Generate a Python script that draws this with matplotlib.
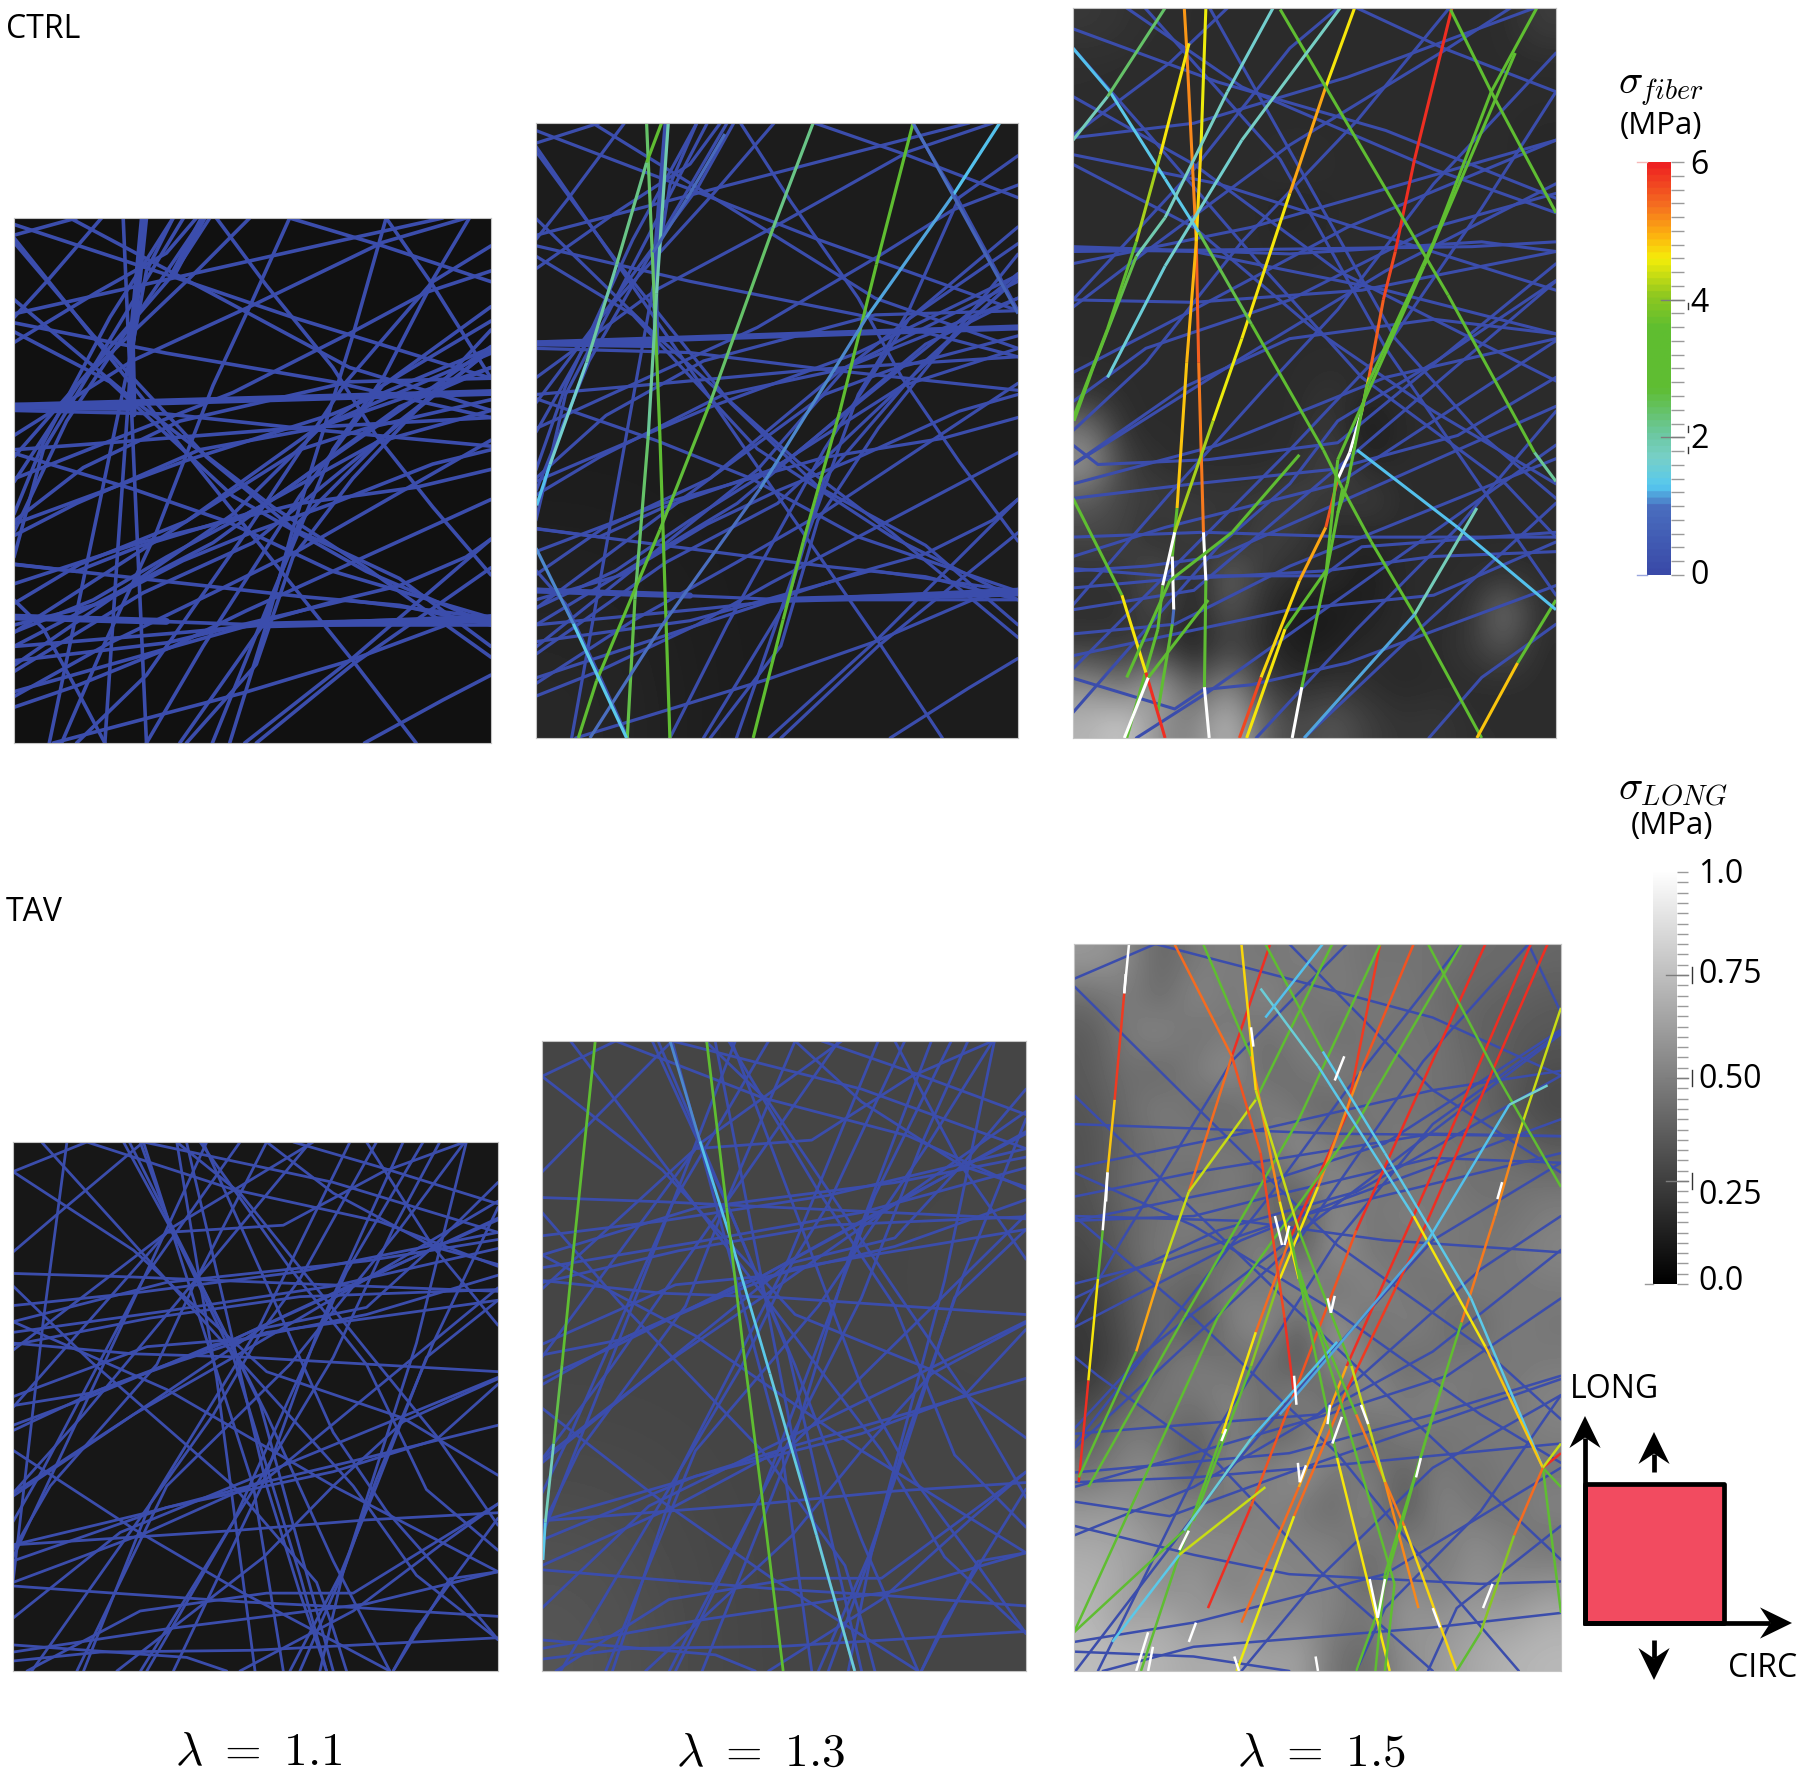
import matplotlib
matplotlib.use("Agg")
import matplotlib.pyplot as plt
import numpy as np
from matplotlib.collections import LineCollection
from matplotlib.colors import LinearSegmentedColormap, Normalize
from matplotlib.patches import Polygon, Rectangle

W, H = 1800, 1776

# Fibers are polylines [x0, y0, x1, y1, ...] in coordinates of the panel crop
# CTRL network (lambda 1.1 / 1.3 share it), box 42-1475 x 52-1520
ctrl_net = [
    [42, 590, 500, 600, 900, 640, 1475, 690],
    [42, 1165, 780, 1190, 1475, 1190],
    [42, 1250, 560, 1210, 790, 1190, 1475, 1165],
    [42, 1290, 500, 1240, 1040, 1120, 1475, 1170],
    [42, 1420, 230, 1360, 520, 1250, 740, 1150, 1000, 1040],
    [42, 1390, 330, 1240, 640, 1100, 900, 980, 1200, 820],
    [160, 1520, 730, 1380, 1050, 1290, 1340, 1190, 1475, 1165],
    [735, 1520, 1050, 1290, 1475, 950],
    [770, 1520, 1060, 1300, 1475, 1030],
    [1095, 1520, 1330, 1400, 1475, 1330],
    [42, 1075, 420, 960, 900, 850, 1250, 805, 1475, 755],
    [42, 1020, 230, 1040, 420, 970, 740, 880, 1130, 680, 1475, 590],
    [42, 1130, 240, 1020, 560, 900, 950, 640, 1475, 430],
    [42, 940, 230, 850, 600, 700, 950, 640, 1475, 470],
    [42, 700, 330, 680, 880, 640, 1475, 610],
    [42, 660, 400, 450, 750, 300, 1150, 120, 1400, 52],
    [42, 320, 520, 220, 1000, 120, 1330, 52],
    [42, 100, 230, 52],
    [42, 900, 250, 750, 540, 620, 1050, 510, 1475, 500],
    [180, 860, 560, 730, 1000, 600, 1475, 415],
    [42, 1250, 640, 960, 1200, 580, 1475, 470],
    [42, 70, 500, 210, 880, 330, 1475, 500],
    [210, 52, 640, 265, 1050, 470, 1475, 590],
    [42, 120, 280, 380, 620, 720, 880, 920, 1200, 1060, 1475, 1250],
    [42, 280, 400, 560, 820, 860, 1100, 1030, 1475, 1280],
    [42, 345, 500, 430, 1000, 510, 1475, 610],
    [42, 370, 330, 510, 700, 830, 1100, 1040, 1475, 1190],
    [42, 710, 400, 810, 680, 900, 1000, 1040, 1475, 1170],
    [650, 52, 800, 240, 1000, 470, 1130, 660, 1300, 860, 1475, 1050],
    [1160, 52, 1300, 240, 1475, 500],
    [870, 52, 1150, 130, 1475, 230],
    [42, 1120, 130, 1200, 230, 1370, 315, 1520],
    [750, 930, 1060, 1290, 1250, 1520],
    [420, 1060, 900, 1110, 1200, 1135, 1475, 1190],
    [630, 52, 520, 210, 240, 510, 42, 790],
    [610, 52, 400, 340, 200, 620, 42, 930],
    [520, 52, 330, 330, 130, 680, 42, 880],
    [750, 52, 570, 220, 230, 520, 42, 720],
    [1475, 300, 1150, 520, 900, 830, 610, 1250, 440, 1520],
    [1475, 420, 1200, 620, 900, 900, 790, 1190, 540, 1520],
    [1200, 640, 1060, 780, 880, 1000, 770, 1300, 560, 1520],
    [1475, 130, 1300, 230, 1150, 500, 1000, 700, 820, 1100, 690, 1400],
    [305, 52, 140, 230, 42, 330],
    [42, 1000, 130, 700, 260, 500],
    [42, 1320, 430, 1100, 760, 960, 1130, 680],
    [1475, 200, 1280, 260, 1060, 370, 700, 540, 400, 650],
    [1475, 950, 1400, 1000, 1200, 1080, 1000, 1125, 600, 1230],
    [1475, 340, 1150, 520, 960, 640, 700, 880, 420, 1060],
    [1475, 560, 1100, 640, 900, 700, 560, 900, 310, 1050],
    [1475, 700, 1300, 740, 1000, 850, 760, 930, 550, 1010, 300, 1130, 42, 1190],
    [42, 1210, 280, 1120, 500, 1000, 800, 850, 1000, 720],
    [42, 400, 290, 260, 500, 150, 590, 52],
    [520, 52, 440, 200, 400, 400, 310, 800],
]
ctrl_thick = [
    [42, 578, 1475, 540],
    [42, 578, 390, 582],
    [430, 52, 395, 400, 400, 600],
    [42, 1168, 500, 1180],
    [790, 1190, 1475, 1175],
]
ctrl_top_thick = [[610, 52, 520, 210]]
ctrl_steep = [
    [370, 52, 405, 800, 440, 1520],
    [440, 52, 390, 500, 350, 1030, 315, 1520],
    [870, 52, 750, 300, 640, 520, 470, 930, 310, 1250, 185, 1520],
    [1160, 52, 1060, 380, 960, 680, 880, 920, 800, 1190, 690, 1520],
    [1410, 52, 1290, 240, 1040, 510, 740, 930, 440, 1330, 230, 1520],
]

# lambda 1.3 CTRL, coloured fibers, box 48-1495 x 33-1540
ctrl13_pts = [
    [380, 33, 405, 500, 420, 800, 450, 1540],
    [445, 33, 410, 450, 385, 800, 345, 1200, 322, 1540],
    [425, 33, 380, 130, 290, 380, 200, 620, 90, 870, 50, 970],
    [880, 33, 760, 290, 570, 720, 420, 1030, 230, 1400, 175, 1540],
    [1180, 33, 1070, 380, 960, 740, 850, 1060, 790, 1250, 700, 1540],
    [1440, 33, 1300, 210, 1040, 510, 720, 930, 430, 1260, 210, 1540],
    [48, 1075, 160, 1260, 320, 1540],
    [615, 60, 500, 220, 400, 350],
    [1180, 33, 1300, 210, 1495, 500],
]
ctrl13_vals = [
    [2.4, 2.8, 3.0],
    [1.9, 2.1, 2.4, 2.6],
    [3.0, 2.2, 2.0, 1.6, 1.3],
    [2.2, 2.4, 2.7, 2.9, 3.0],
    [3.4, 3.4, 3.4, 3.4, 3.4],
    [1.3, 1.2, 1.05, 1.0, 1.0],
    [1.1, 1.4],
    [0.9, 0.7],
    [1.0, 0.7],
]

# lambda 1.5 CTRL, box 48-1055 x 17-1525
ctrl15_blue = [
    [48, 520, 500, 515, 880, 510, 1055, 500],
    [48, 510, 500, 525, 900, 500, 1055, 520],
    [48, 515, 300, 520, 700, 600, 1055, 690],
    [48, 545, 420, 470, 1055, 290],
    [48, 620, 300, 625, 650, 600, 1055, 520],
    [48, 285, 300, 255, 620, 160, 1010, 17],
    [48, 635, 200, 520, 500, 300, 830, 100, 960, 17],
    [48, 60, 350, 170, 700, 270, 1055, 410],
    [160, 17, 400, 180, 800, 350, 1055, 440],
    [48, 320, 350, 380, 700, 490, 1055, 600],
    [48, 340, 300, 470, 550, 680, 800, 850, 1055, 1000],
    [48, 100, 190, 260, 450, 560, 650, 780, 950, 1000, 1055, 1110],
    [640, 17, 820, 100, 1055, 190],
    [48, 770, 300, 640, 620, 470, 1055, 290],
    [48, 830, 200, 720, 500, 620, 800, 470, 1055, 400],
    [48, 920, 100, 960, 330, 950, 600, 915, 1000, 590],
    [48, 1000, 350, 920, 700, 780, 1055, 700],
    [48, 1030, 300, 1000, 590, 970, 850, 900, 1055, 780],
    [48, 1110, 320, 1100, 640, 1110, 1055, 1110],
    [48, 1150, 240, 1090, 600, 1000, 800, 870],
    [48, 1175, 300, 1195, 570, 1180, 800, 1150, 1055, 1140],
    [48, 1215, 330, 1190, 570, 1190, 650, 1130, 1055, 1100],
    [48, 1310, 260, 1290, 500, 1170, 700, 1090],
    [48, 1355, 500, 1260, 800, 1230, 1055, 1120],
    [210, 1450, 260, 1465, 320, 1425, 420, 1415, 620, 1370, 1055, 1210],
    [1055, 850, 850, 1090, 640, 1300, 430, 1525],
    [1055, 580, 800, 750, 600, 870, 500, 1000, 350, 1130, 200, 1300],
    [1055, 110, 800, 380, 600, 640, 450, 800, 250, 1020, 48, 1250],
    [1055, 190, 900, 430, 700, 720, 500, 930, 270, 1160],
    [300, 130, 480, 330, 700, 720, 950, 1080, 1055, 1230],
    [550, 400, 720, 700, 900, 900, 1055, 1030],
    [48, 890, 200, 750, 400, 500, 640, 250, 830, 20],
    [370, 17, 250, 130, 48, 280],
    [48, 1180, 200, 1170, 350, 1150, 600, 1040],
    [180, 1525, 330, 1430, 600, 1240],
    [530, 1525, 770, 1300, 1055, 1040],
    [1055, 1290, 900, 1400, 790, 1525],
    [48, 1260, 300, 1220, 430, 1110],
    [1055, 380, 700, 560, 400, 740, 48, 960],
    [1055, 690, 800, 660, 500, 700, 280, 800, 48, 960],
    [600, 17, 500, 100, 300, 350, 48, 620],
    [48, 200, 300, 340, 600, 560, 1000, 760],
]
ctrl15_pts = [
    [280, 17, 285, 100, 305, 500, 310, 750, 320, 1100, 325, 1200, 322, 1420, 332, 1525],
    [325, 17, 315, 300, 305, 500, 285, 750, 265, 1050, 255, 1150, 258, 1260, 255, 1290, 225, 1470],
    [635, 17, 575, 180, 500, 400, 400, 700, 340, 870, 260, 1100, 235, 1210, 225, 1300, 160, 1525],
    [838, 17, 760, 330, 720, 520, 695, 620, 665, 780, 650, 850, 625, 935, 600, 990, 575, 1090, 520, 1200, 440, 1400, 395, 1525],
    [1015, 17, 920, 190, 800, 500, 660, 800, 620, 1000, 600, 1060],
    [970, 110, 780, 550, 600, 950, 575, 1190],
    [835, 20, 920, 190, 1055, 440],
    [480, 20, 640, 290, 830, 610, 1010, 935, 1055, 995],
    [125, 190, 240, 370, 310, 480, 420, 670, 570, 930, 610, 1010, 670, 1120, 760, 1270, 900, 1525],
    [48, 100, 125, 190],
    [240, 17, 120, 200, 48, 290],
    [465, 17, 370, 190, 240, 450, 180, 530, 90, 760, 50, 870],
    [605, 17, 400, 290, 240, 550, 120, 780],
    [290, 90, 230, 320, 180, 500, 120, 680, 50, 860],
    [48, 1030, 150, 1230, 200, 1390, 240, 1525],
    [610, 1010, 575, 1190, 525, 1420, 505, 1525],
    [575, 1180, 490, 1300, 410, 1525],
    [1055, 1240, 975, 1370, 890, 1525],
    [890, 1050, 760, 1270, 530, 1525],
    [640, 930, 850, 1090, 1055, 1260],
    [160, 1400, 250, 1200, 380, 1100, 520, 940],
    [155, 1525, 205, 1400, 330, 1240],
]
ctrl15_vals = [
    [5.1, 5.2, 5.5, 5.3, 9, 2.8, 9],
    [4.5, 4.7, 4.9, 4.8, 3.0, 9, 1.0, 3.0],
    [4.6, 5.0, 4.6, 4.5, 4.2, 9, 3.0, 3.0],
    [5.9, 5.9, 5.7, 5.5, 4.8, 9, 9, 5.6, 5.0, 4.7, 5.7],
    [3.4, 3.2, 3.1, 3.0, 3.1],
    [3.3, 3.1, 3.4],
    [3.3, 3.0],
    [3.1, 3.0, 3.1, 2.1],
    [1.4, 1.4, 2.6, 2.9, 3.0, 3.1, 3.2, 3.4],
    [1.3],
    [2.4, 1.8],
    [1.6, 1.7, 1.9, 2.6, 3.0],
    [1.7, 1.6, 1.5],
    [4.6, 4.2, 3.2, 3.0],
    [3.2, 4.6, 5.9],
    [3.1, 3.2, 9],
    [3.4, 4.6],
    [3.2, 4.8],
    [1.8, 1.2],
    [1.3, 1.3],
    [3.0, 3.1, 3.0],
    [9, 3.0, 1.2],
]

# TAV network (lambda 1.1 / 1.3 share it), box 38-1495 x 37-1518
tav_net = [
    [38, 120, 260, 37],
    [38, 345, 170, 240, 400, 60, 430, 37],
    [38, 405, 400, 415, 800, 430, 1495, 455],
    [38, 495, 400, 460, 900, 400, 1495, 290],
    [38, 540, 500, 430, 1100, 370, 1495, 310],
    [38, 570, 500, 510, 1000, 440, 1495, 335],
    [38, 605, 450, 530, 900, 470, 1495, 450],
    [38, 600, 400, 630, 750, 640, 1495, 680],
    [38, 750, 440, 610, 700, 590, 1000, 460, 1495, 255],
    [38, 775, 270, 740, 540, 650, 800, 570, 1495, 480],
    [38, 830, 270, 750, 640, 605, 1100, 520, 1495, 410],
    [38, 845, 300, 730, 700, 590, 1150, 400, 1495, 250],
    [38, 1020, 400, 800, 700, 640, 1100, 420],
    [38, 1165, 440, 1075, 790, 990, 1060, 930, 1495, 830],
    [38, 1210, 500, 1060, 1000, 960, 1310, 870, 1495, 715],
    [38, 1270, 440, 1130, 800, 980, 1060, 780],
    [38, 1165, 700, 1125, 1100, 1095, 1495, 1075],
    [38, 1280, 340, 1300, 740, 1325, 1060, 1340, 1495, 1365],
    [38, 1445, 560, 1480, 680, 1518],
    [38, 1490, 300, 1465, 760, 1460, 1495, 1425],
    [38, 1465, 500, 1400, 1100, 1330, 1495, 1240],
    [80, 1518, 420, 1350, 800, 1300, 1060, 1300, 1495, 1050],
    [38, 120, 400, 340, 800, 680, 1210, 810, 1495, 970],
    [260, 37, 700, 170, 1140, 260, 1495, 385],
    [430, 37, 1000, 150, 1495, 290],
    [38, 440, 270, 650, 700, 1000, 950, 1270, 1000, 1400, 1040, 1518],
    [38, 900, 400, 1120, 730, 1300, 1170, 1518],
    [38, 540, 500, 730, 1000, 1000, 1495, 1240],
    [530, 37, 720, 180, 1100, 620, 1310, 860, 1495, 1110],
    [1100, 37, 1300, 330, 1495, 550],
    [600, 37, 870, 390, 1100, 660, 1280, 1010, 1495, 1180],
    [710, 640, 1060, 1000, 1250, 1250, 1495, 1430],
    [870, 580, 1000, 850, 1160, 1070, 1350, 1270, 1495, 1430],
    [1395, 37, 1200, 280, 870, 660, 500, 1000, 230, 1518],
    [940, 37, 510, 280, 38, 780],
    [800, 37, 590, 420, 470, 660, 150, 1000, 38, 1180],
    [620, 37, 500, 280, 270, 740, 38, 1200],
    [720, 37, 430, 420, 130, 950, 38, 1100],
    [1050, 37, 780, 550, 450, 1050, 250, 1518],
    [1210, 37, 960, 550, 790, 990, 520, 1518],
    [1270, 37, 1040, 400, 700, 1100, 440, 1518],
    [1495, 220, 1300, 600, 1130, 980, 1030, 1240, 900, 1518],
    [1400, 37, 1250, 600, 1030, 1240, 960, 1518],
    [1495, 480, 1280, 640, 1130, 1000, 1020, 1250, 870, 1518],
    [1495, 700, 1210, 820, 1000, 1000, 790, 1200, 350, 1518],
    [1495, 1050, 1330, 1160, 1060, 1350, 720, 1518],
    [1495, 1240, 1350, 1260, 1180, 1518],
    [1495, 1090, 1250, 1400, 1180, 1518],
    [370, 37, 600, 430, 780, 770, 1000, 1518],
    [710, 640, 800, 1000, 900, 1300, 980, 1518],
    [1395, 37, 1150, 120, 850, 270, 500, 290, 38, 620],
    [1495, 150, 1300, 330, 1100, 500, 780, 560, 400, 800],
    [1130, 37, 900, 420, 790, 560, 640, 800, 450, 1050],
    [1320, 37, 1180, 280, 1000, 640, 800, 950, 600, 1250],
    [880, 37, 1150, 110, 1495, 210],
    [800, 37, 1000, 180, 1300, 330, 1495, 380],
    [640, 650, 760, 1000, 850, 1518],
    [600, 430, 800, 800, 1000, 1210, 1170, 1518],
    [38, 1020, 250, 800, 500, 520],
    [38, 1370, 360, 1130, 700, 1000],
]
tav_steep = [
    [200, 37, 130, 530, 38, 1270],
    [530, 37, 600, 430, 650, 700, 720, 1200, 765, 1518],
    [420, 37, 510, 270, 700, 640, 900, 1250, 980, 1518],
]

# lambda 1.3 TAV, coloured fibers, box 35-1490 x 28-1548
tav13_pts = [
    [195, 28, 135, 490, 95, 810, 70, 1000, 45, 1190, 38, 1280],
    [420, 28, 510, 270, 600, 500, 720, 830, 860, 1220, 975, 1548],
    [530, 28, 590, 430, 640, 770, 700, 1150, 760, 1548],
]
tav13_vals = [
    [3.3, 3.2, 2.6, 1.8, 1.4],
    [1.1, 1.3, 1.4, 1.45, 1.5],
    [3.3, 3.2, 3.3, 3.4],
]

# lambda 1.5 TAV, box 50-1068 x 28-1530
tav15_blue = [
    [50, 100, 220, 28],
    [220, 28, 500, 100, 800, 180, 1068, 300],
    [50, 400, 600, 420, 1068, 425],
    [50, 490, 400, 420, 800, 330, 1068, 290],
    [50, 590, 400, 600, 700, 640, 1068, 665],
    [50, 550, 300, 500, 800, 420, 1068, 425],
    [50, 600, 450, 520, 700, 440, 1068, 205],
    [50, 760, 350, 620, 640, 540, 1068, 300],
    [50, 730, 250, 680, 520, 590, 1068, 460],
    [50, 820, 400, 640, 600, 560, 1068, 390],
    [50, 1150, 300, 1080, 580, 1000, 830, 920, 1068, 760],
    [50, 1120, 500, 1080, 800, 1000, 1068, 920],
    [50, 1140, 300, 1130, 540, 1110, 1068, 1060],
    [50, 1230, 300, 1290, 500, 1330, 900, 1350, 1068, 1345],
    [50, 1490, 300, 1500, 500, 1530],
    [50, 1470, 300, 1430, 700, 1330, 1068, 1110],
    [110, 1530, 300, 1480, 800, 1440, 1068, 1410],
    [50, 115, 280, 340, 600, 650, 900, 860, 1068, 1010],
    [50, 340, 250, 530, 500, 770, 800, 1050, 1068, 1300],
    [50, 880, 100, 920, 340, 1090, 560, 1320, 800, 1530],
    [50, 590, 300, 800, 600, 1080, 780, 1300, 980, 1530],
    [500, 28, 800, 330, 1068, 500],
    [1000, 28, 780, 270, 520, 640, 50, 1070],
    [860, 28, 620, 330, 450, 560, 100, 1000],
    [620, 28, 380, 270, 150, 640, 50, 810],
    [1068, 210, 800, 400, 600, 640, 350, 1030, 130, 1470],
    [1068, 480, 800, 640, 580, 880, 370, 1120, 200, 1340],
    [1068, 1230, 850, 1400, 790, 1530],
    [1068, 960, 900, 1200, 700, 1400, 640, 1530],
    [50, 1030, 200, 870, 300, 790, 500, 640],
    [50, 600, 300, 590, 500, 540, 800, 470, 1068, 480],
    [50, 500, 300, 610, 600, 790, 900, 1000, 1068, 1100],
    [50, 1040, 300, 1020, 560, 1000, 800, 870, 1068, 660],
    [50, 1180, 250, 1210, 500, 1120, 1000, 950],
    [50, 1250, 300, 1150, 560, 1000, 900, 700, 1068, 590],
    [400, 1530, 560, 1340, 800, 1110, 1068, 960],
    [1000, 28, 1068, 170],
]
tav15_pts = [
    [165, 28, 155, 130, 135, 350, 120, 500, 110, 620, 100, 720, 80, 930, 60, 1140],
    [460, 28, 380, 260, 290, 540, 230, 710, 180, 870, 60, 1130],
    [590, 28, 430, 350, 290, 540],
    [690, 28, 620, 380, 500, 640, 430, 830, 360, 1040, 270, 1290, 190, 1530],
    [760, 28, 650, 290, 560, 530, 480, 720, 420, 900, 300, 1220],
    [910, 28, 790, 290, 640, 620, 420, 1190, 330, 1400],
    [1005, 28, 800, 500, 620, 900, 520, 1150, 400, 1430],
    [1040, 28, 780, 620, 620, 950, 510, 1210, 390, 1530],
    [1068, 160, 980, 420, 930, 590, 860, 810, 800, 1000, 680, 1420, 640, 1530],
    [860, 28, 640, 400, 350, 800, 50, 1450],
    [690, 28, 520, 390, 280, 800, 80, 1150],
    [260, 28, 380, 260, 440, 460, 490, 800, 510, 960],
    [320, 28, 420, 260, 480, 560, 520, 720, 640, 1000, 740, 1230, 850, 1530],
    [450, 28, 570, 250, 700, 460, 880, 760, 1030, 1110, 1068, 1150],
    [790, 28, 940, 310, 1068, 530],
    [400, 28, 430, 330, 520, 620, 630, 900, 700, 1140, 770, 1400],
    [440, 120, 560, 280, 760, 590, 910, 860, 1030, 1110, 1068, 1410],
    [500, 620, 600, 1090, 710, 1530],
    [1068, 1080, 1030, 1110, 970, 1250, 900, 1450, 850, 1530],
    [820, 940, 700, 1330, 680, 1530],
    [50, 1450, 280, 1240, 420, 1050, 600, 850],
    [130, 1470, 270, 1290, 450, 1150],
    [1040, 320, 960, 360, 790, 640, 480, 1000],
    [1030, 1110, 1068, 1060],
    [520, 700, 600, 950, 720, 1350, 700, 1530],
    [570, 28, 450, 180],
]
tav15_vals = [
    [9, 5.8, 4.8, 9, 3.0, 4.6, 5.9],
    [5.9, 5.4, 4.4, 5.0, 3.2],
    [3.2, 4.4],
    [5.8, 5.9, 5.4, 4.6, 3.2, 3.0],
    [5.6, 5.2, 4.6, 4.0, 3.1],
    [5.9, 5.9, 5.6, 5.9],
    [5.9, 5.9, 5.0, 5.4],
    [5.9, 5.8, 5.4, 4.5],
    [4.4, 5.2, 5.3, 3.6, 3.2, 3.0],
    [3.0, 3.1, 3.2],
    [3.2, 3.3, 3.1],
    [5.4, 5.6, 5.7, 5.9],
    [3.2, 5.2, 4.6, 3.2, 5.3, 4.7],
    [3.0, 1.4, 1.4, 1.4, 3.0],
    [3.1, 3.0],
    [4.7, 4.4, 3.2, 4.4, 5.2],
    [1.5, 1.4, 4.6, 4.8, 3.2],
    [3.4, 4.6],
    [5.9, 5.4, 4.0, 3.2],
    [3.0, 3.1, 5.3],
    [3.0, 1.5, 1.3],
    [1.4, 4.4],
    [1.6, 1.3, 1.2],
    [4.4],
    [3.3, 3.2, 3.4],
    [1.3],
]
# short white parts (stress above the colour range)
tav15_over = [
    [158, 90, 155, 130], [120, 500, 117, 560], [420, 200, 425, 240],
    [615, 260, 595, 310], [470, 590, 485, 650], [490, 650, 500, 610],
    [580, 760, 587, 790], [595, 755, 587, 790], [510, 920, 515, 980],
    [650, 980, 665, 1020], [668, 1340, 685, 1420], [700, 1340, 685, 1420],
    [775, 1090, 765, 1130], [925, 1350, 905, 1400], [945, 520, 935, 555],
    [518, 1100, 522, 1140], [535, 1105, 522, 1140], [290, 1240, 270, 1280],
    [205, 1450, 180, 1530], [215, 1480, 205, 1530], [555, 1500, 560, 1530],
    [585, 980, 580, 1020], [610, 1005, 590, 1060], [368, 1030, 358, 1055],
    [800, 1400, 815, 1440], [305, 1430, 290, 1470], [385, 1500, 395, 1530],
]

ctrl15_bg = [
    [.22, .20, .18, .17, .17, .17, .17, .17, .17, .17, .17, .17, .17, .24],
    [.18, .18, .17, .17, .17, .17, .17, .17, .17, .17, .17, .17, .17, .17],
    [.18, .17, .17, .17, .17, .17, .17, .17, .17, .17, .17, .17, .17, .17],
    [.17, .17, .17, .17, .17, .17, .17, .17, .17, .17, .17, .17, .17, .16],
    [.17, .17, .17, .17, .17, .17, .20, .17, .17, .17, .17, .17, .17, .16],
    [.17, .17, .17, .17, .17, .17, .13, .17, .17, .17, .17, .17, .17, .17],
    [.17, .17, .17, .17, .17, .17, .16, .17, .17, .17, .17, .17, .17, .17],
    [.17, .17, .17, .17, .17, .17, .17, .17, .17, .17, .17, .17, .17, .17],
    [.17, .17, .17, .17, .17, .17, .17, .17, .17, .17, .17, .17, .17, .17],
    [.17, .17, .17, .17, .17, .17, .17, .17, .17, .17, .17, .17, .17, .17],
    [.18, .17, .17, .17, .17, .17, .17, .20, .17, .17, .17, .17, .17, .17],
    [.45, .17, .17, .17, .17, .17, .17, .24, .08, .17, .17, .17, .17, .17],
    [.60, .25, .18, .17, .17, .17, .18, .28, .15, .17, .17, .17, .17, .17],
    [.35, .25, .25, .22, .22, .22, .28, .20, .26, .17, .17, .17, .17, .17],
    [.27, .27, .15, .27, .15, .27, .22, .15, .15, .17, .17, .17, .17, .17],
    [.20, .20, .35, .10, .42, .22, .18, .18, .10, .17, .17, .17, .18, .17],
    [.18, .18, .30, .13, .35, .18, .10, .10, .12, .17, .17, .18, .48, .18],
    [.22, .22, .22, .10, .26, .18, .10, .12, .17, .17, .17, .22, .34, .17],
    [.55, .40, .70, .30, .55, .25, .17, .20, .18, .15, .17, .17, .17, .17],
    [.70, .80, .55, .50, .75, .40, .26, .35, .25, .20, .22, .18, .18, .18],
]
tav15_bg = [
    [.60, .55, .38, .48, .50, .45, .50, .48, .45, .45, .45, .42, .42, .40],
    [.42, .50, .40, .55, .45, .55, .42, .50, .45, .48, .42, .40, .38, .36],
    [.35, .48, .55, .42, .50, .42, .52, .40, .48, .44, .46, .38, .36, .34],
    [.35, .45, .38, .50, .58, .40, .45, .52, .42, .48, .44, .42, .36, .30],
    [.33, .42, .50, .42, .40, .52, .42, .38, .50, .44, .46, .40, .34, .28],
    [.32, .40, .45, .50, .44, .45, .58, .46, .42, .50, .44, .46, .42, .34],
    [.32, .42, .48, .40, .52, .40, .44, .55, .48, .44, .50, .42, .45, .44],
    [.30, .40, .44, .52, .44, .46, .30, .56, .44, .52, .46, .48, .44, .50],
    [.28, .38, .50, .44, .40, .56, .34, .60, .46, .44, .50, .44, .48, .52],
    [.24, .34, .44, .36, .52, .44, .60, .40, .56, .46, .44, .50, .46, .48],
    [.22, .32, .46, .30, .50, .58, .35, .62, .40, .52, .46, .38, .50, .46],
    [.20, .30, .42, .52, .40, .46, .28, .60, .50, .42, .44, .50, .46, .48],
    [.26, .38, .50, .44, .56, .40, .56, .32, .58, .46, .54, .44, .48, .52],
    [.36, .50, .44, .36, .50, .42, .38, .62, .36, .52, .42, .50, .46, .50],
    [.44, .52, .56, .30, .58, .46, .62, .44, .50, .36, .50, .42, .50, .46],
    [.58, .60, .48, .55, .42, .54, .46, .40, .56, .30, .54, .46, .44, .52],
    [.66, .64, .60, .50, .58, .48, .52, .50, .44, .50, .46, .56, .50, .44],
    [.70, .66, .50, .62, .46, .58, .50, .54, .36, .56, .48, .58, .52, .56],
    [.72, .60, .68, .56, .62, .50, .56, .50, .46, .60, .56, .62, .60, .68],
    [.74, .72, .70, .66, .68, .62, .64, .44, .40, .56, .60, .66, .70, .72],
]
ctrl13_bg = [[.11, .11, .11, .11], [.11, .11, .11, .11], [.11, .11, .11, .11], [.16, .11, .11, .11]]
tav13_bg = [[.27, .27, .27, .27], [.27, .27, .27, .28], [.27, .27, .27, .27], [.34, .27, .27, .27]]

# colorbars
fiber_stops = [0, .16, .21, .28, .34, .45, .6, .68, .77, .83, .9, 1]
fiber_colors = ["#3a4aa8", "#4a6ebf", "#55c8f0", "#78d0c8", "#6cc8a0", "#5fbd33", "#5fbe30",
                "#90c820", "#f5ee0a", "#fdb010", "#f56f20", "#ee2222"]
fiber_ticks = np.arange(0, 6.01, 0.2)
long_ticks = np.arange(0, 1.001, 0.025)
lambdas = ["1.1", "1.3", "1.5"]

fiber_cmap = LinearSegmentedColormap.from_list("fiber", list(zip(fiber_stops, fiber_colors)), N=64)
fiber_cmap = fiber_cmap.with_extremes(over="white")
fiber_norm = Normalize(0, 6)
BLUE = "#3b4dac"

fig = plt.figure(figsize=(W / 100, H / 100), dpi=100, facecolor="white")
plt.rcParams["mathtext.fontset"] = "cm"
plt.rcParams["font.family"] = ["Open Sans", "DejaVu Sans"]


def px_axes(x0, y0, x1, y1):
    return fig.add_axes([x0 / W, 1 - y1 / H, (x1 - x0) / W, (y1 - y0) / H])


def extend(a, box):
    # blue fibers run from edge to edge of the sample, so carry loose ends on to the box
    a = a.copy()
    for i, j in [(0, 1), (-1, -2)]:
        p, d = a[i], a[i] - a[j]
        ts = []
        if d[0] > 0:
            ts.append((box[1] - p[0]) / d[0])
        elif d[0] < 0:
            ts.append((box[0] - p[0]) / d[0])
        if d[1] > 0:
            ts.append((box[3] - p[1]) / d[1])
        elif d[1] < 0:
            ts.append((box[2] - p[1]) / d[1])
        if ts:
            a[i] = p + d * max(min(ts), 0)
    return a


def draw_panel(rect, box, bg, blue=(), thick=(), net_box=None, pts=(), vals=(), over=(), lw=2.2):
    ax = px_axes(*rect)
    ax.set_xlim(box[0], box[1])
    ax.set_ylim(box[3], box[2])
    ax.imshow(np.array(bg), cmap="gray", vmin=0, vmax=1, aspect="auto", interpolation="bicubic",
              extent=[box[0], box[1], box[3], box[2]])
    ax.set_xticks([])
    ax.set_yticks([])
    for s in ax.spines.values():
        s.set_color("#c4c4c4")
        s.set_linewidth(0.8)

    # network given in another crop gets mapped on this one
    nb = net_box or box

    def conv(f):
        a = np.array(f, dtype=float).reshape(-1, 2)
        a[:, 0] = box[0] + (a[:, 0] - nb[0]) / (nb[1] - nb[0]) * (box[1] - box[0])
        a[:, 1] = box[2] + (a[:, 1] - nb[2]) / (nb[3] - nb[2]) * (box[3] - box[2])
        return a

    ax.add_collection(LineCollection([extend(conv(f), box) for f in blue],
                                     colors=BLUE, linewidths=lw, capstyle="round"))
    if thick:
        ax.add_collection(LineCollection([conv(f) for f in thick],
                                         colors=BLUE, linewidths=lw * 1.9, capstyle="round"))
    segs, seg_vals = [], []
    for f, v in zip(pts, vals):
        a = np.array(f, dtype=float).reshape(-1, 2)
        for i in range(len(a) - 1):
            segs.append(a[i:i + 2])
            seg_vals.append(v[min(i, len(v) - 1)])
    if segs:
        ax.add_collection(LineCollection(segs, array=np.array(seg_vals), cmap=fiber_cmap, norm=fiber_norm,
                                         linewidths=lw, capstyle="butt"))
    if over:
        ax.add_collection(LineCollection([np.array(f, dtype=float).reshape(-1, 2) for f in over],
                                         colors="white", linewidths=lw))
    return ax


# CTRL row
draw_panel((14, 218, 491, 743), (42, 1475, 52, 1520), [[.07]], blue=ctrl_net + ctrl_steep,
           thick=ctrl_thick + ctrl_top_thick, lw=2.6)
draw_panel((536, 123, 1018, 738), (48, 1495, 33, 1540), ctrl13_bg, blue=ctrl_net, thick=ctrl_thick,
           net_box=(42, 1475, 52, 1520), pts=ctrl13_pts, vals=ctrl13_vals, lw=2.3)
draw_panel((1073, 8, 1556, 738), (48, 1055, 17, 1525), ctrl15_bg, blue=ctrl15_blue,
           pts=ctrl15_pts, vals=ctrl15_vals, lw=2.2)

# TAV row
draw_panel((13, 1142, 498, 1671), (38, 1495, 37, 1518), [[.09]], blue=tav_net + tav_steep, lw=2.0)
draw_panel((542, 1041, 1026, 1671), (35, 1490, 28, 1548), tav13_bg, blue=tav_net,
           net_box=(38, 1495, 37, 1518), pts=tav13_pts, vals=tav13_vals, lw=2.0)
draw_panel((1074, 944, 1561, 1671), (50, 1068, 28, 1530), tav15_bg, blue=tav15_blue,
           pts=tav15_pts, vals=tav15_vals, over=tav15_over, lw=1.8)

# fiber stress colorbar
cb1 = px_axes(1647, 162, 1671, 575)
cb1.imshow(np.linspace(6, 0, 256).reshape(-1, 1), cmap=fiber_cmap, norm=fiber_norm, aspect="auto",
           extent=[0, 1, 0, 6])
cb1.set_xticks([])
cb1.yaxis.tick_right()
cb1.set_yticks(fiber_ticks)
cb1.set_yticklabels([])
cb1.tick_params(axis="y", length=9.5, width=1, color="#9a9a9a")
for s in cb1.spines.values():
    s.set_visible(False)

# long stress colorbar
cb2 = px_axes(1653, 872, 1677, 1284)
cb2.imshow(np.linspace(1, 0, 256).reshape(-1, 1), cmap="gray", vmin=0, vmax=1, aspect="auto",
           extent=[0, 1, 0, 1])
cb2.set_xticks([])
cb2.yaxis.tick_right()
cb2.set_yticks(long_ticks)
cb2.set_yticklabels([])
cb2.tick_params(axis="y", length=8, width=1, color="#9a9a9a")
for s in cb2.spines.values():
    s.set_visible(False)

# overlay in figure pixels for labels and the schematic
ov = fig.add_axes([0, 0, 1, 1], zorder=5)
ov.set_xlim(0, W)
ov.set_ylim(H, 0)
ov.axis("off")

# longer ticks at the labelled values
for val in [2, 4]:
    y = 575 - val / 6 * 413
    ov.plot([1661, 1684], [y, y], color="#7c7c7c", lw=1)
for val in [0.25, 0.5, 0.75]:
    y = 1284 - val * 412
    ov.plot([1666, 1688], [y, y], color="#7c7c7c", lw=1)
    ov.plot([1692, 1692], [y - 8, y + 8], color="#333333", lw=1)
ov.plot([1637, 1647], [162, 162], color="#f6b8b8", lw=1)
ov.plot([1637, 1647], [575, 575], color="#9aa6dd", lw=1)
ov.plot([1645, 1653], [1284, 1284], color="#999999", lw=1)
for y in [306, 429, 450]:
    ov.plot([1688, 1688], [y - 3, y + 3], color="#333333", lw=1)

txt = dict(color="black", va="center", ha="left", fontsize=23)
ov.text(6, 29, "CTRL", **txt)
ov.text(6, 912, "TAV", **txt)
for s, y in [("6", 165), ("4", 304), ("2", 439), ("0", 575)]:
    ov.text(1690, y, s, **txt)
for s, y in [("1.0", 874), ("0.75", 974), ("0.50", 1079), ("0.25", 1195), ("0.0", 1281)]:
    ov.text(1698, y, s, **txt)
ov.text(1661, 126, "(MPa)", ha="center", va="center", fontsize=22.5)
ov.text(1672, 826, "(MPa)", ha="center", va="center", fontsize=22.5)
ov.text(1661, 89, r"$\sigma_{fiber}$", ha="center", va="center", fontsize=29)
ov.text(1673, 789, r"$\sigma_{LONG}$", ha="center", va="center", fontsize=29)
for lam, x in zip(lambdas, [258, 760, 1321]):
    ov.text(x, 1753, r"$\lambda\ =\ %s$" % lam, ha="center", va="center", fontsize=34)
ov.text(1570, 1389, "LONG", **txt)
ov.text(1728, 1668, "CIRC", **txt)

# schematic: loaded square with axes
ov.add_patch(Rectangle((1585, 1484), 139, 139, facecolor="#f24b60", edgecolor="black", lw=3.4, joinstyle="round"))


def arrow(x0, y0, x1, y1, lw=3.4, size=30):
    d = np.array([x1 - x0, y1 - y0], dtype=float)
    d /= np.hypot(*d)
    n = np.array([-d[1], d[0]])
    tip = np.array([x1, y1], dtype=float)
    base = tip - d * size
    ov.plot([x0, base[0] + d[0] * 8], [y0, base[1] + d[1] * 8], color="black", lw=lw, solid_capstyle="butt")
    head = [tip, base - d * 2 + n * size * 0.52, tip - d * size * 0.72, base - d * 2 - n * size * 0.52]
    ov.add_patch(Polygon(head, closed=True, facecolor="black", edgecolor="none"))


arrow(1585, 1625, 1585, 1416)
arrow(1583, 1623, 1792, 1623)
arrow(1654, 1472, 1654, 1432, lw=3.4)
arrow(1654, 1640, 1654, 1680, lw=3.4)

fig.savefig("out.png", dpi=100)
